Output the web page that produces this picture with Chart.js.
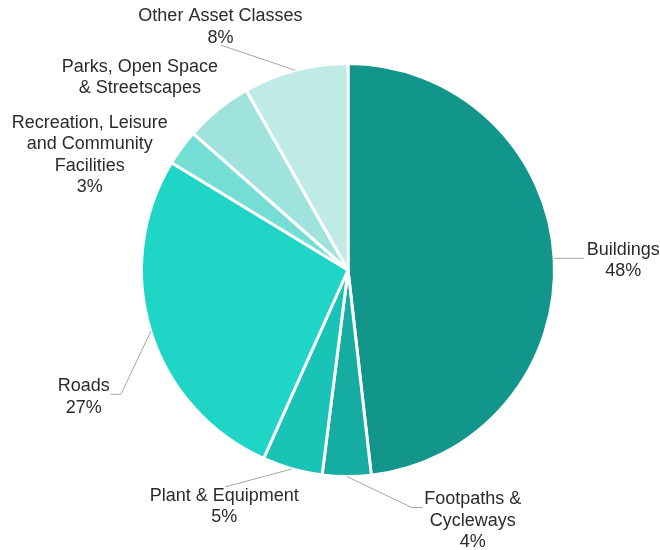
<!DOCTYPE html>
<html>
<head>
<meta charset="utf-8">
<script src="https://cdn.jsdelivr.net/npm/chart.js@4"></script>
<style>
  body { margin: 0; background: #fff; }
</style>
</head>
<body>
<canvas id="assets-pie" width="660" height="550"></canvas>
<script>
//chart data (clockwise from the top)
const categories = ['Buildings', 'Footpaths & Cycleways', 'Plant & Equipment', 'Roads',
    'Recreation, Leisure and Community Facilities', 'Parks, Open Space & Streetscapes', 'Other Asset Classes'];
const shares = [48.2, 3.8, 4.7, 27.0, 2.8, 5.3, 8.2];
const sliceColours = ['#12968c', '#15ada1', '#19c3b5', '#1ed5c6', '#74ddd4', '#a0e3dd', '#c0eae6'];

//how each label is wrapped and where it sits, relative to the middle of its slice edge
const labelLayout = [
    {lines: ['Buildings'], showPct: true, leader: [[30, 0]], tx: 69, ty: -8.6},
    {lines: ['Footpaths &', 'Cycleways'], showPct: true, leader: [[65, 31], [76, 31]], tx: 126, ty: 23},
    {lines: ['Plant & Equipment'], showPct: true, leader: [[-67, 18]], tx: -68, ty: 27},
    {lines: ['Roads'], showPct: true, leader: [[-30, 63], [-40, 63]], tx: -67, ty: 55},
    {lines: ['Recreation, Leisure', 'and Community', 'Facilities'], showPct: true, leader: null, tx: -92, ty: -25},
    {lines: ['Parks, Open Space', '& Streetscapes'], showPct: false, leader: null, tx: -78, ty: -43},
    {lines: ['Other Asset Classes'], showPct: true, leader: [[-74, -25]], tx: -75, ty: -54}
];

//draws the outside labels with their leader lines
const outsideLabels = {
    id: 'outsideLabels',
    afterDraw(chart) {
        const ctx = chart.ctx;
        const arcs = chart.getDatasetMeta(0).data;
        const total = shares.reduce((a, b) => a + b, 0);
        ctx.save();
        ctx.font = '18px "Liberation Sans", Arial, sans-serif';
        ctx.textAlign = 'center';
        ctx.textBaseline = 'middle';
        for (let i = 0; i < arcs.length; i++) {
            const p = arcs[i].getProps(['x', 'y', 'startAngle', 'endAngle', 'outerRadius'], true);
            const mid = (p.startAngle + p.endAngle) / 2;
            const ax = p.x + Math.cos(mid) * p.outerRadius;
            const ay = p.y + Math.sin(mid) * p.outerRadius;
            const lay = labelLayout[i];
            if (lay.leader) { //leader line from the slice edge out to the label
                ctx.strokeStyle = '#a6a6a6';
                ctx.lineWidth = 1;
                ctx.beginPath();
                ctx.moveTo(ax, ay);
                lay.leader.forEach(pt => ctx.lineTo(ax + pt[0], ay + pt[1]));
                ctx.stroke();
            }
            let lines = lay.lines.slice();
            if (lay.showPct) {
                lines.push(Math.round(shares[i] / total * 100) + '%');
            }
            ctx.fillStyle = '#2b2b2b';
            lines.forEach((line, j) => ctx.fillText(line, ax + lay.tx, ay + lay.ty + j * 21.5));
        }
        ctx.restore();
    }
};

new Chart(document.getElementById('assets-pie').getContext('2d'), {
    type: 'pie',
    data: {
        labels: categories,
        datasets: [{
            data: shares,
            backgroundColor: sliceColours,
            borderColor: '#ffffff',
            borderWidth: 3
        }]
    },
    options: {
        responsive: false,
        animation: false,
        layout: {
            padding: {top: 62, bottom: 72, left: 140, right: 104}
        },
        plugins: {
            legend: {display: false},
            tooltip: {enabled: false}
        }
    },
    plugins: [outsideLabels]
});
</script>
</body>
</html>
